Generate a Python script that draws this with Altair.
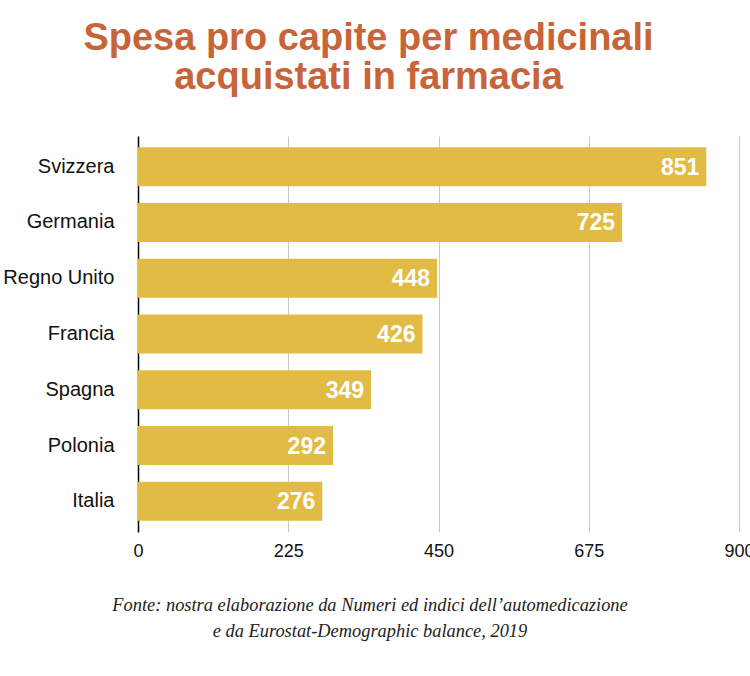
import altair as alt
import pandas as pd

# Spesa pro capite per medicinali acquistati in farmacia (euro)
paesi = ["Svizzera", "Germania", "Regno Unito", "Francia", "Spagna", "Polonia", "Italia"]
spesa = [851, 725, 448, 426, 349, 292, 276]
tick_valori = [0, 225, 450, 675, 900]
fonte = [
    "Fonte: nostra elaborazione da Numeri ed indici dell\u2019automedicazione",
    "e da Eurostat-Demographic balance, 2019",
]

df = pd.DataFrame({"paese": paesi, "spesa": spesa})
df_fonte = pd.DataFrame({"nota": ["\n".join(fonte)]})

W, H = 601, 396

y_enc = alt.Y(
    "paese:N",
    sort=paesi,
    title=None,
    scale=alt.Scale(paddingInner=0.3, paddingOuter=0.2),
    axis=alt.Axis(
        labelFont="Liberation Sans",
        labelFontSize=20,
        labelColor="#111111",
        labelPadding=24,
        ticks=False,
        domainColor="#000000",
        domainWidth=1.5,
    ),
)

x_enc = alt.X(
    "spesa:Q",
    title=None,
    scale=alt.Scale(domain=[0, 900], nice=False),
    axis=alt.Axis(
        values=tick_valori,
        labelFont="Liberation Sans",
        labelFontSize=18,
        labelColor="#111111",
        labelPadding=10,
        ticks=False,
        domain=False,
        grid=True,
        gridColor="#c8c8c8",
        gridWidth=1,
        labelBound=False,
        labelFlush=False,
    ),
)

barre = alt.Chart(df).mark_bar(color="#E2BB44").encode(x=x_enc, y=y_enc)

etichette = alt.Chart(df).mark_text(
    align="right",
    baseline="middle",
    dx=-7,
    dy=1,
    color="white",
    font="Liberation Sans",
    fontWeight="bold",
    fontSize=23,
).encode(x="spesa:Q", y=alt.Y("paese:N", sort=paesi), text="spesa:Q")

# source note below the axis, centred on the whole page
nota = alt.Chart(df_fonte).mark_text(
    align="center",
    baseline="middle",
    lineBreak="\n",
    lineHeight=26,
    font="Liberation Serif",
    fontStyle="italic",
    fontSize=18.4,
    color="#222222",
).encode(
    x=alt.value(232),
    y=alt.value(H + 73),
    text="nota:N",
)

chart = (
    alt.layer(barre, etichette, nota)
    .properties(
        width=W,
        height=H,
        autosize=alt.AutoSizeParams(type="none"),
        padding={"left": 138, "top": 136, "right": 11, "bottom": 140},
        title=alt.TitleParams(
            text=["Spesa pro capite per medicinali", "acquistati in farmacia"],
            font="Liberation Sans",
            fontWeight="bold",
            fontSize=38,
            color="#C8643A",
            lineHeight=39,
            anchor="middle",
            dx=-70,
            offset=39,
        ),
    )
    .configure_view(stroke=None)
)

chart.save("out.html", embed_options={"renderer": "svg", "actions": False})
